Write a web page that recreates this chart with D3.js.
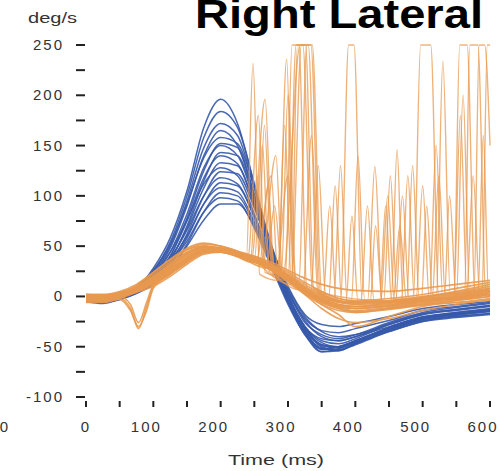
<!DOCTYPE html>
<html>
<head>
<meta charset="utf-8">
<script src="https://cdn.jsdelivr.net/npm/d3@7/dist/d3.min.js"></script>
<style>
  body { margin: 0; background: #fff; }
  svg { display: block; }
  .tick-label { font-family: "Liberation Sans", Arial, sans-serif; font-size: 15px; fill: #333; letter-spacing: 2px; }
  .axis-title { font-family: "Liberation Sans", Arial, sans-serif; font-size: 14px; fill: #333; }
  .title { font-family: "Liberation Sans", Arial, sans-serif; font-size: 40px; font-weight: bold; fill: #000; }
  .blue { fill: none; stroke: #3659aa; stroke-width: 1.5; stroke-opacity: 0.9; }
  .orange { fill: none; stroke: #e8994f; stroke-width: 1.6; stroke-opacity: 0.9; }
  .spike { fill: none; stroke: #e8994f; stroke-width: 1.4; stroke-opacity: 0.75; }
</style>
</head>
<body>
<div id="chart"></div>
<script>

// sample times (ms) shared by the smooth traces
var times = [0, 25, 50, 75, 100, 125, 150, 175, 200, 225, 250, 275, 300, 325, 350, 375, 400, 450, 500, 550, 600];
// extra samples for the traces with the early dip
var dipTimes = [0, 25, 50, 66, 78, 90, 100, 125, 150, 175, 200, 225, 250, 275, 300, 325, 350, 375, 400, 450, 500, 550, 600];

var yTicks = [-100, -50, 0, 50, 100, 150, 200, 250];
var yMinorTicks = [-75, -25, 25, 75, 125, 175, 225];
var xTicks = [0, 100, 200, 300, 400, 500, 600];
var xMinorTicks = [50, 150, 250, 350, 450, 550];

// blue traces (deg/s)
var blueTraces = [
  [-2, -4, 0, 8, 28, 58, 105, 168, 196, 172, 110, 40, -5, -35, -52, -50, -45, -32, -22, -18, -14],
  [-3, -5, -1, 6, 22, 48, 90, 140, 165, 150, 100, 45, 0, -30, -42, -44, -40, -30, -20, -16, -12],
  [0, -2, 2, 9, 26, 52, 92, 138, 158, 152, 108, 52, 5, -22, -34, -36, -32, -24, -14, -10, -6],
  [-4, -6, -2, 5, 18, 40, 78, 125, 152, 148, 102, 48, 2, -32, -50, -54, -47, -33, -23, -20, -17],
  [-1, -3, 1, 7, 20, 44, 82, 128, 150, 140, 95, 40, -4, -36, -55, -52, -46, -35, -25, -19, -15],
  [-5, -6, -3, 3, 15, 36, 70, 115, 143, 140, 98, 50, 10, -18, -28, -30, -27, -20, -12, -8, -5],
  [-2, -4, 0, 6, 19, 40, 75, 118, 140, 132, 90, 42, 0, -30, -46, -50, -44, -31, -21, -16, -13],
  [-3, -5, -1, 5, 16, 36, 68, 108, 133, 130, 92, 46, 8, -20, -35, -40, -38, -28, -18, -14, -10],
  [0, -2, 2, 8, 22, 44, 76, 112, 128, 120, 82, 36, -4, -34, -53, -50, -44, -33, -22, -18, -14],
  [-4, -6, -2, 4, 14, 33, 62, 100, 124, 122, 88, 44, 6, -24, -40, -44, -40, -27, -17, -13, -9],
  [-2, -3, 1, 7, 18, 38, 66, 100, 118, 112, 78, 34, -6, -36, -51, -53, -47, -34, -24, -20, -17],
  [-3, -5, -1, 5, 15, 32, 58, 92, 113, 110, 80, 40, 0, -32, -48, -51, -45, -31, -21, -17, -14],
  [-1, -3, 1, 6, 17, 35, 60, 92, 108, 104, 74, 34, -6, -38, -55, -54, -48, -35, -25, -21, -18],
  [-5, -7, -3, 3, 12, 28, 52, 84, 103, 100, 72, 36, 4, -26, -38, -42, -38, -26, -16, -11, -7],
  [-2, -4, 0, 5, 15, 32, 55, 84, 98, 95, 68, 30, -8, -38, -52, -53, -47, -34, -23, -18, -15],
  [-3, -5, 0, 7, 24, 50, 95, 148, 172, 160, 108, 48, 2, -30, -48, -50, -44, -31, -21, -17, -13],
  [-1, -3, 1, 8, 25, 54, 100, 158, 184, 168, 112, 46, -2, -33, -49, -51, -45, -31, -21, -17, -14],
  [-4, -6, -2, 4, 13, 28, 50, 76, 92, 92, 70, 34, -2, -30, -44, -47, -42, -28, -18, -13, -9]
];

// orange smooth traces (deg/s)
var orangeTraces = [
  [0, -2, 2, 8, 18, 30, 42, 50, 48, 44, 38, 30, 20, 8, -2, -8, -10, -8, -4, 0, 6],
  [-4, -5, 0, 6, 14, 24, 36, 45, 46, 42, 36, 28, 18, 6, -4, -10, -12, -10, -6, -2, 2],
  [2, 1, 4, 10, 22, 34, 46, 52, 50, 45, 40, 32, 22, 12, 2, -4, -6, -4, 0, 4, 10],
  [-6, -6, -2, 4, 10, 20, 32, 42, 44, 40, 34, 26, 16, 4, -6, -12, -15, -12, -8, -4, 0],
  [0, 0, 3, 9, 20, 32, 44, 48, 45, 42, 37, 30, 21, 9, 0, -6, -8, -6, -2, 2, 8],
  [-2, -3, 1, 7, 16, 27, 38, 46, 47, 43, 37, 29, 19, 7, -3, -9, -12, -9, -5, -1, 4],
  [1, 0, 4, 11, 24, 36, 47, 50, 46, 41, 35, 27, 17, 5, -5, -12, -16, -12, -8, -6, -4],
  [-3, -4, 0, 5, 13, 23, 34, 43, 45, 42, 38, 32, 24, 14, 5, -2, -4, -2, 2, 8, 14],
  [-1, -2, 2, 8, 19, 31, 43, 49, 48, 44, 39, 31, 21, 10, 1, -5, -7, -5, -1, 3, 8],
  [-5, -5, -1, 5, 12, 22, 34, 44, 46, 42, 35, 26, 15, 2, -8, -14, -16, -13, -9, -6, -2],
  [2, 2, 5, 12, 24, 37, 48, 53, 50, 45, 38, 29, 18, 6, -3, -8, -10, -6, -1, 5, 12],
  [-3, -4, 0, 6, 15, 26, 38, 46, 46, 42, 36, 27, 16, 2, -12, -22, -26, -22, -14, -8, -3],
  [1, 0, 3, 9, 20, 32, 44, 50, 48, 44, 40, 34, 26, 18, 12, 8, 6, 5, 8, 12, 16],
  [-2, -3, 1, 7, 17, 29, 41, 48, 47, 43, 37, 28, 17, 4, -8, -18, -30, -20, -10, -4, 0]
];

// orange traces with the dip near 80 ms
var dipTraces = [
  [-2, -3, -2, -12, -32, -10, 10, 24, 37, 45, 46, 42, 36, 28, 18, 6, -4, -10, -12, -9, -5, -1, 4],
  [0, -1, 0, -8, -26, -6, 12, 26, 39, 47, 47, 43, 37, 29, 19, 8, -2, -8, -10, -7, -3, 1, 6],
  [-3, -4, -3, -14, -30, -14, 8, 22, 35, 44, 45, 41, 35, 27, 17, 4, -6, -11, -14, -11, -7, -3, 2]
];

// orange saturating traces, [time, deg/s] pairs
var spikeTraces = [
  [[0, -1], [50, 1], [100, 15], [150, 38], [175, 46], [200, 45], [225, 40], [238, 36], [248, 232], [258, 22], [285, 16], [298, 236], [308, 14], [340, 2], [380, -6], [453, -6], [462, 146], [471, -4], [520, -2], [600, 6]],
  [[0, -3], [50, 0], [100, 12], [150, 34], [175, 44], [200, 44], [225, 39], [245, 34], [266, 196], [278, 20], [305, 12], [314, 250], [326, 250], [338, 8], [378, -4], [390, 250], [398, 250], [410, -4], [486, -5], [497, 250], [512, 250], [524, -2], [600, 2]],
  [[0, 1], [50, 3], [100, 18], [150, 42], [175, 49], [200, 47], [225, 42], [250, 36], [262, 150], [272, 25], [292, 18], [318, 250], [330, 250], [344, 6], [418, -6], [429, 129], [440, -5], [520, -4], [530, 234], [541, 2], [600, 8]],
  [[0, -2], [50, 1], [100, 14], [150, 37], [175, 45], [200, 45], [225, 40], [252, 34], [275, 120], [285, 22], [295, 170], [305, 15], [320, 250], [334, 250], [348, 4], [438, -4], [448, 100], [458, -3], [546, -3], [555, 250], [566, 250], [578, 0], [600, 4]],
  [[0, 0], [50, 2], [100, 16], [150, 39], [175, 47], [200, 46], [225, 41], [240, 37], [256, 180], [266, 24], [290, 20], [300, 200], [312, 12], [360, -4], [468, -6], [478, 120], [488, -4], [562, -2], [570, 250], [582, 250], [594, 0], [600, 2]],
  [[0, -4], [50, -1], [100, 13], [150, 35], [175, 44], [200, 44], [225, 40], [258, 33], [270, 110], [280, 24], [300, 18], [312, 250], [322, 250], [336, 10], [408, -8], [418, 90], [428, -6], [498, -4], [506, 90], [515, -2], [576, -2], [584, 250], [592, 250], [600, 150]],
  [[0, -1], [50, 2], [100, 15], [150, 38], [175, 46], [200, 45], [225, 40], [260, 33], [282, 140], [292, 20], [316, 14], [328, 250], [336, 250], [350, 2], [394, -6], [404, 140], [414, -5], [460, -4], [470, 100], [480, -3], [546, -2], [556, 180], [566, 0], [600, 5]],
  [[0, 0], [50, 2], [100, 15], [150, 37], [175, 45], [200, 45], [225, 41], [262, 30], [272, 60], [282, 22], [300, 120], [312, 10], [360, -5], [370, 110], [380, -6], [422, -6], [430, 70], [440, -5], [476, -6], [485, 130], [495, -4], [532, -3], [540, 100], [550, -2], [582, 0], [590, 160], [598, 0], [600, 2]],
  [[0, -2], [50, 0], [100, 14], [150, 36], [175, 45], [200, 44], [225, 40], [268, 28], [280, 90], [292, 18], [334, 4], [345, 130], [356, 0], [386, -6], [395, 80], [404, -6], [442, -5], [452, 120], [462, -4], [510, -4], [520, 150], [530, -2], [565, 0], [575, 120], [585, 0], [600, 6]],
  [[0, 1], [50, 3], [100, 17], [150, 40], [175, 48], [200, 46], [225, 41], [255, 34], [265, 170], [276, 26], [322, 6], [335, 160], [346, 4], [368, -4], [378, 130], [388, -6], [436, -6], [445, 90], [454, -5], [490, -5], [500, 110], [510, -3], [550, -2], [560, 200], [570, 0], [600, 4]],
  [[0, -1], [50, 1], [100, 14], [150, 37], [175, 46], [200, 45], [225, 40], [244, 35], [254, 120], [264, 28], [296, 16], [306, 250], [316, 250], [328, 6], [352, -2], [362, 90], [372, -5], [456, -6], [466, 70], [476, -5], [514, -4], [524, 120], [534, -3], [588, 2], [596, 250], [600, 250]]
];

var width = 500,
    height = 471;

var svg = d3.select("#chart")
  .append("svg")
  .attr("width", width)
  .attr("height", height);

//scale functions
var xScale = d3.scaleLinear()
  .domain([0, 600])
  .range([86, 490]);
var yScale = d3.scaleLinear()
  .domain([-100, 250])
  .range([397, 45]);

// y ticks, no axis line
svg.selectAll(".ytick")
  .data(yTicks.concat(yMinorTicks))
  .enter().append("line")
  .attr("x1", 76)
  .attr("x2", 85)
  .attr("y1", function(d) { return yScale(d); })
  .attr("y2", function(d) { return yScale(d); })
  .attr("stroke", "#222")
  .attr("stroke-width", 2);

svg.selectAll(".ylabel")
  .data(yTicks)
  .enter().append("text")
  .attr("class", "tick-label")
  .attr("x", 64)
  .attr("y", function(d) { return yScale(d) + 5; })
  .attr("text-anchor", "end")
  .text(function(d) { return d; });

// x ticks
svg.selectAll(".xtick")
  .data(xTicks.concat(xMinorTicks))
  .enter().append("line")
  .attr("x1", function(d) { return xScale(d); })
  .attr("x2", function(d) { return xScale(d); })
  .attr("y1", 401)
  .attr("y2", 407)
  .attr("stroke", "#222")
  .attr("stroke-width", 2);

svg.selectAll(".xlabel")
  .data(xTicks)
  .enter().append("text")
  .attr("class", "tick-label")
  .attr("x", function(d) { return xScale(d) + (d == 0 ? 0 : -7); })
  .attr("y", 432)
  .attr("text-anchor", "middle")
  .text(function(d) { return d; });

// cut off label from the neighbouring panel
svg.append("text")
  .attr("class", "tick-label")
  .attr("x", 10)
  .attr("y", 432)
  .attr("text-anchor", "end")
  .text("600");

// titles
svg.append("text")
  .attr("class", "title")
  .attr("x", 195)
  .attr("y", 28)
  .attr("textLength", 288)
  .attr("lengthAdjust", "spacingAndGlyphs")
  .text("Right Lateral");

svg.append("text")
  .attr("class", "axis-title")
  .attr("x", 28)
  .attr("y", 23)
  .attr("textLength", 49)
  .attr("lengthAdjust", "spacingAndGlyphs")
  .text("deg/s");

svg.append("text")
  .attr("class", "axis-title")
  .attr("x", 228)
  .attr("y", 465)
  .attr("textLength", 96)
  .attr("lengthAdjust", "spacingAndGlyphs")
  .text("Time (ms)");

// line generators
var gridLine = function(ts) {
  return d3.line()
    .x(function(d, i) { return xScale(ts[i]); })
    .y(function(d) { return yScale(d); })
    .curve(d3.curveMonotoneX);
};
var pairLine = d3.line()
  .x(function(d) { return xScale(d[0]); })
  .y(function(d) { return yScale(d[1]); })
  .curve(d3.curveMonotoneX);

svg.selectAll(".blue")
  .data(blueTraces)
  .enter().append("path")
  .attr("class", "blue")
  .attr("d", gridLine(times));

svg.selectAll(".spike")
  .data(spikeTraces)
  .enter().append("path")
  .attr("class", "spike")
  .attr("d", pairLine);

svg.selectAll(".orange")
  .data(orangeTraces)
  .enter().append("path")
  .attr("class", "orange")
  .attr("d", gridLine(times));

svg.selectAll(".dip")
  .data(dipTraces)
  .enter().append("path")
  .attr("class", "orange dip")
  .attr("d", gridLine(dipTimes));

</script>
</body>
</html>
